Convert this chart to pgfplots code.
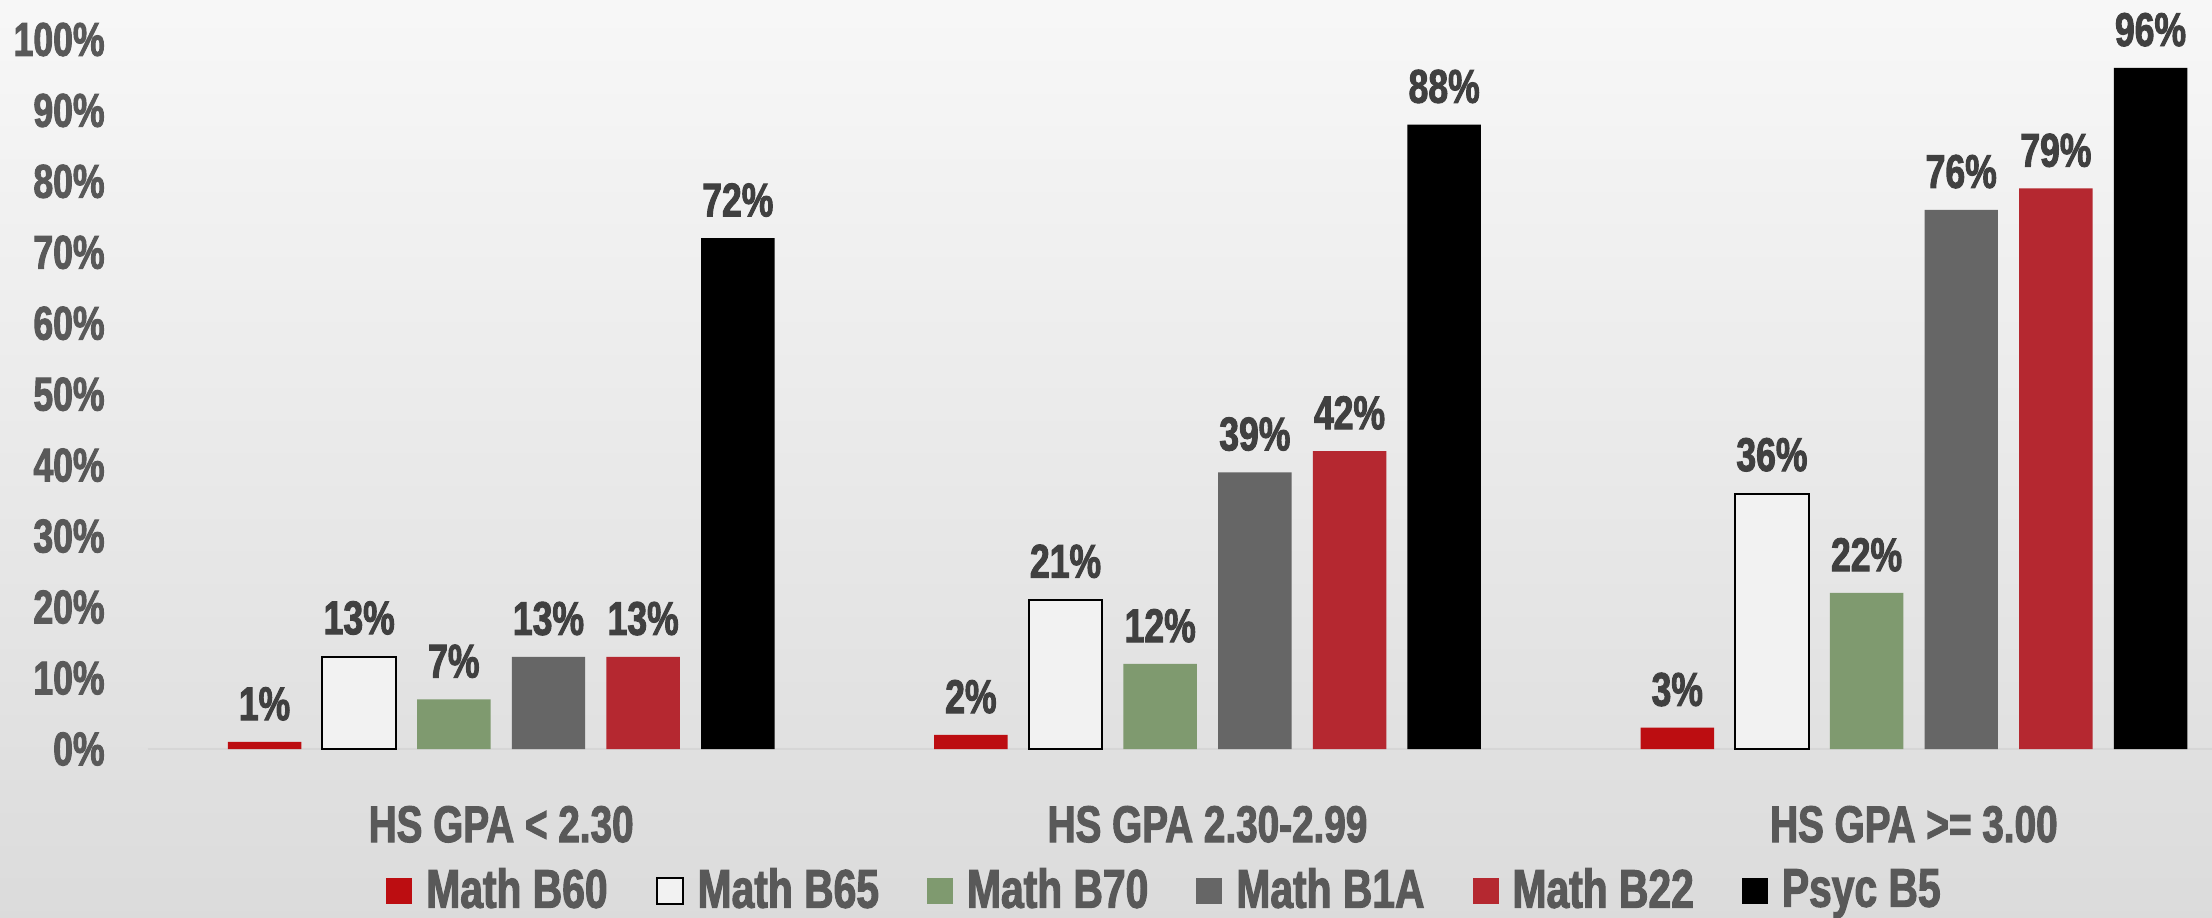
\documentclass[border=0pt]{standalone}
\usepackage{pgfplots}
\pgfplotsset{compat=1.18}
\usepackage{fontspec}
\newfontfamily\chartfont{Liberation Sans}[FakeStretch=0.75,FakeBold=2]
\definecolor{cB60}{HTML}{BC0D11}
\definecolor{cB65}{HTML}{F2F2F2}
\definecolor{cB70}{HTML}{7F9A6F}
\definecolor{cB1A}{HTML}{666666}
\definecolor{cB22}{HTML}{B52830}
\definecolor{cB5}{HTML}{000000}
\definecolor{tickc}{HTML}{595959}
\definecolor{labc}{HTML}{404040}
\begin{document}
\begin{tikzpicture}
\shade[top color=black!3, bottom color=black!14] (-74pt,-84pt) rectangle (1032pt,374.5pt);
\begin{axis}[
  at={(0,0)}, anchor=south west,
  scale only axis, width=1032pt, height=354.75pt,
  xmin=-0.5, xmax=2.422, ymin=0, ymax=100,
  clip=false,
  ybar, bar width=0.104,
  axis x line*=bottom, axis y line*=left,
  x axis line style={-, draw=black!16, line width=1.2pt},
  y axis line style={draw=none},
  tick style={draw=none},
  /pgf/number format/assume math mode=true,
  xtick={0,1,2},
  xticklabels={HS GPA < 2.30, HS GPA 2.30-2.99, HS GPA >= 3.00},
  xticklabel style={anchor=base, yshift=-42.25pt, inner sep=0pt, font=\chartfont\bfseries\fontsize{25.8pt}{26pt}\selectfont, text=tickc},
  ytick={0,10,...,100},
  yticklabel={\pgfmathprintnumber{\tick}\%},
  yticklabel style={anchor=east, inner sep=0pt, xshift=-21.5pt, font=\chartfont\bfseries\fontsize{23.7pt}{24pt}\selectfont, text=tickc},
  nodes near coords={\pgfmathprintnumber{\pgfplotspointmeta}\%},
  every node near coord/.append style={anchor=south, inner sep=0pt, yshift=10.5pt, font=\chartfont\bfseries\fontsize{23.7pt}{24pt}\selectfont, text=labc},
  legend columns=6,
  legend image code/.code={\path[#1] (0pt,-7.25pt) rectangle (13pt,5.75pt);},
  legend style={at={(0.492,-0.198)}, anchor=center, draw=none, fill=none,
    nodes={inner sep=0pt, font=\chartfont\bfseries\fontsize{27.2pt}{28pt}\selectfont, text=tickc},
    /tikz/every odd column/.append style={column sep=7pt},
    /tikz/every even column/.append style={column sep=24pt}},
]
\addplot[fill=cB60, draw=none, bar shift=-0.335] coordinates {(0,1) (1,2) (2,3)};
\addplot[fill=cB65, draw=black, line width=1pt, bar shift=-0.201] coordinates {(0,13) (1,21) (2,36)};
\addplot[fill=cB70, draw=none, bar shift=-0.067] coordinates {(0,7) (1,12) (2,22)};
\addplot[fill=cB1A, draw=none, bar shift=0.067] coordinates {(0,13) (1,39) (2,76)};
\addplot[fill=cB22, draw=none, bar shift=0.201] coordinates {(0,13) (1,42) (2,79)};
\addplot[fill=cB5, draw=none, bar shift=0.335] coordinates {(0,72) (1,88) (2,96)};
\legend{Math B60, Math B65, Math B70, Math B1A, Math B22, Psyc B5}
\end{axis}
\pgfresetboundingbox
\path[use as bounding box] (-74pt,-84pt) rectangle (1032pt,374.5pt);
\end{tikzpicture}
\end{document}
